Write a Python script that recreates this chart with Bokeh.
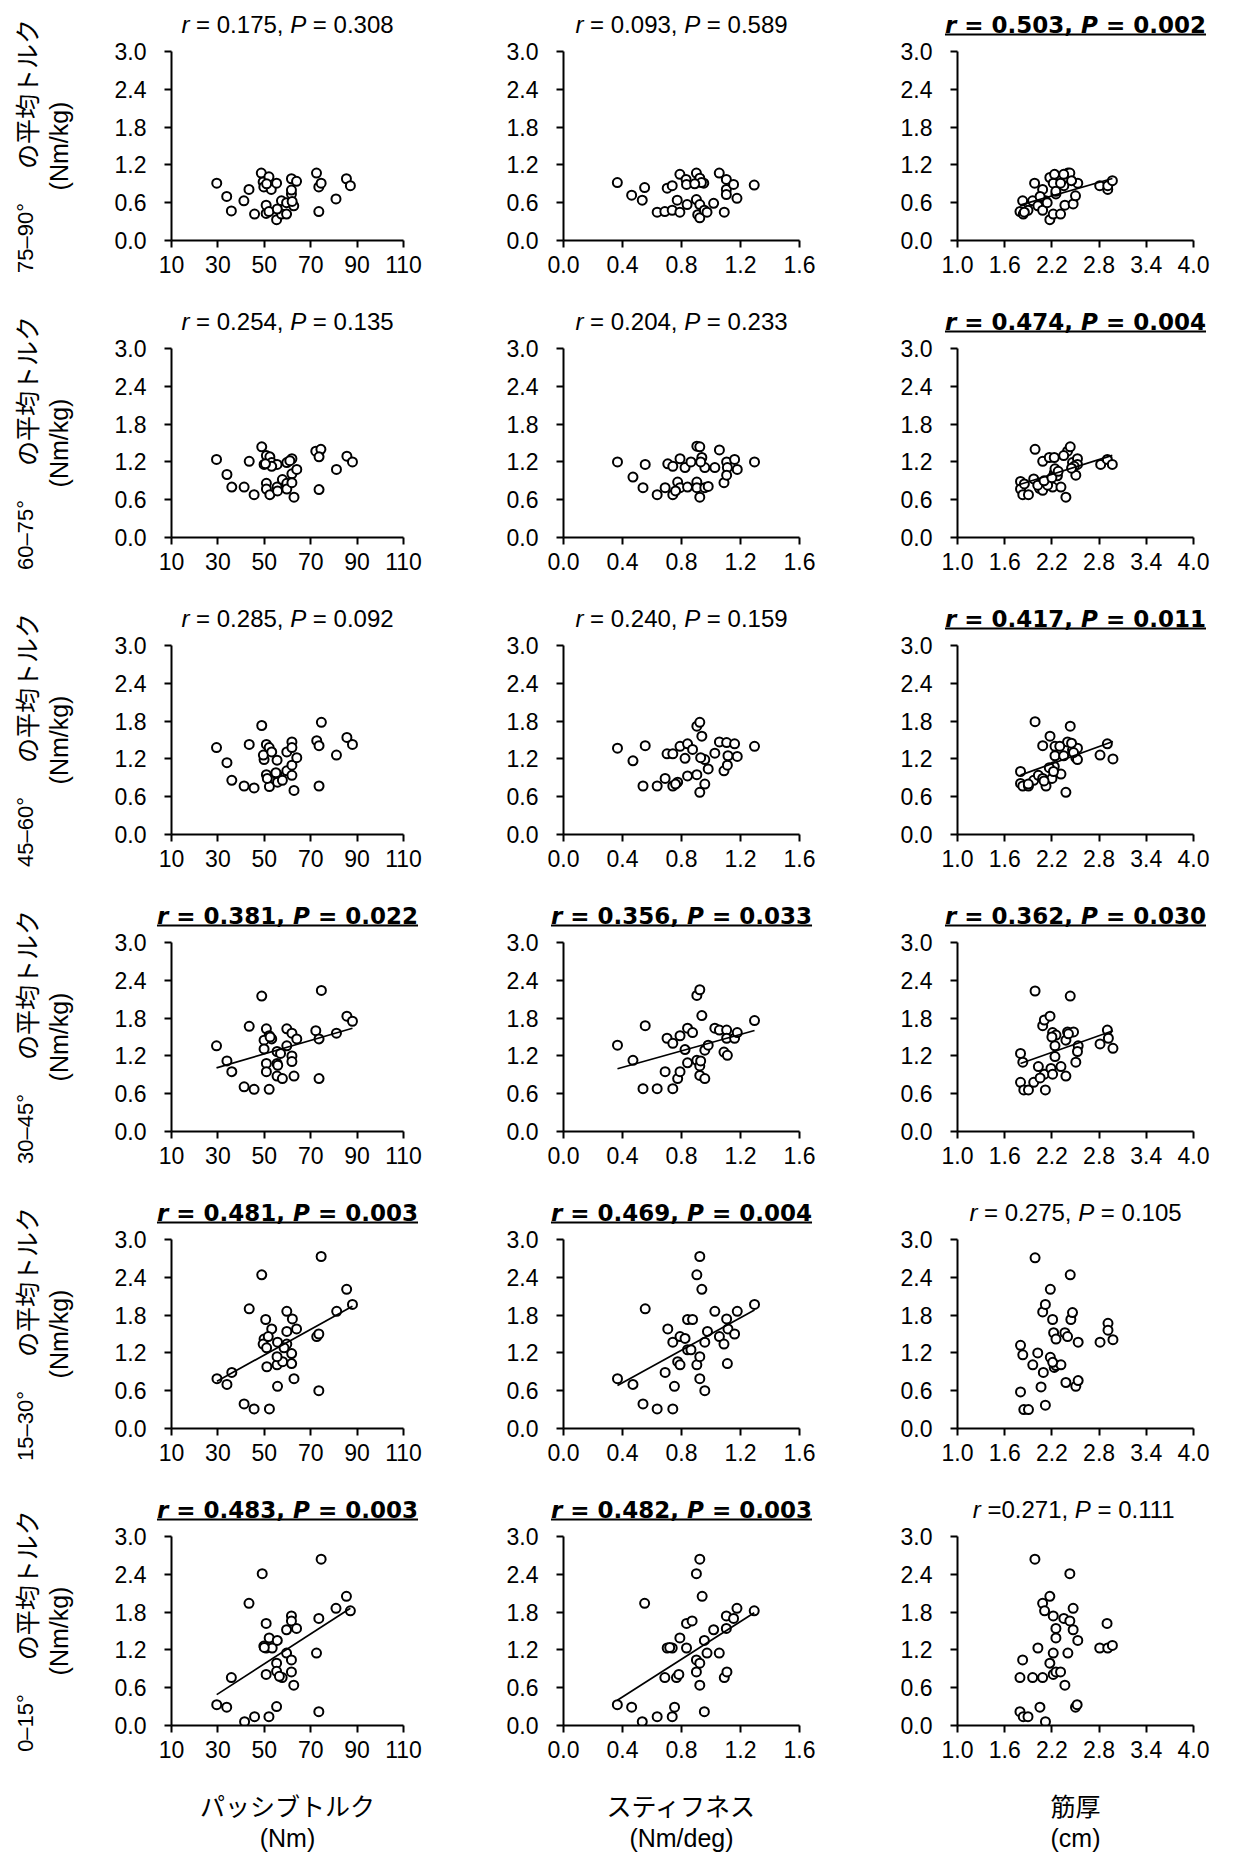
import numpy as np
from bokeh.plotting import figure
from bokeh.models import Range1d, FixedTicker, PrintfTickFormatter
from bokeh.layouts import row, column
from bokeh.core.properties import value
from bokeh.embed import file_html
from bokeh.resources import INLINE

# ---------------- data ----------------
# row 1 : 75-90 deg
r1c1_x = [29.5, 33.8, 35.8, 41.2, 43.4, 45.8, 48.7, 49.5, 49.8, 50.8, 50.8, 52.0, 52.0, 53.0, 55.3, 55.3, 57.4, 57.4,
          59.6, 59.6, 61.7, 61.7, 61.7, 62.7, 63.9, 72.5, 73.5, 74.5, 73.5, 80.9, 85.4, 87.1, 51.0, 55.6, 62.0]
r1c1_y = [0.91, 0.70, 0.47, 0.63, 0.81, 0.42, 1.07, 0.93, 0.85, 0.43, 0.56, 1.01, 0.46, 0.81, 0.91, 0.33, 0.63, 0.42,
          0.42, 0.60, 0.98, 0.74, 0.80, 0.55, 0.94, 1.07, 0.85, 0.91, 0.46, 0.66, 0.98, 0.87, 0.90, 0.50, 0.62]
r1c2_x = [0.365, 0.462, 0.534, 0.550, 0.635, 0.687, 0.703, 0.737, 0.737, 0.771, 0.789, 0.789, 0.831, 0.838, 0.834,
          0.901, 0.901, 0.924, 0.910, 0.924, 0.924, 0.951, 0.955, 0.973, 1.018, 1.056, 1.090, 1.104, 1.104, 1.104,
          1.153, 1.176, 1.293, 0.935, 0.890]
r1c2_y = [0.92, 0.72, 0.64, 0.84, 0.45, 0.46, 0.83, 0.87, 0.48, 0.64, 1.05, 0.45, 0.97, 0.57, 0.89,
          1.07, 0.65, 0.99, 0.41, 0.36, 0.57, 0.91, 0.48, 0.45, 0.59, 1.07, 0.45, 0.97, 0.81, 0.73,
          0.89, 0.67, 0.88, 0.92, 0.90]
r1c3_x = [1.794, 1.828, 1.836, 1.896, 1.955, 1.980, 2.022, 2.082, 2.082, 2.120, 2.174, 2.174, 2.217, 2.234, 2.251,
          2.217, 2.310, 2.352, 2.365, 2.403, 2.428, 2.470, 2.500, 2.529, 2.808, 2.910, 2.910, 2.969, 2.310, 2.350,
          2.140, 2.050, 2.250, 1.850, 2.450]
r1c3_y = [0.46, 0.63, 0.42, 0.48, 0.63, 0.91, 0.55, 0.81, 0.48, 0.63, 1.00, 0.33, 0.91, 1.05, 0.74,
          0.42, 0.42, 0.87, 0.56, 1.07, 1.07, 0.58, 0.71, 0.91, 0.87, 0.81, 0.87, 0.95, 0.91, 1.05,
          0.60, 0.70, 0.78, 0.45, 0.95]

# row 2 : 60-75 deg
r2c1_x = [29.4, 33.9, 36.0, 41.3, 43.5, 45.6, 48.9, 49.9, 50.9, 52.4, 50.9, 50.9, 52.4, 53.2, 55.5, 55.5, 55.7, 57.8,
          59.7, 59.7, 59.7, 61.9, 61.9, 61.9, 64.0, 62.8, 72.2, 74.4, 73.6, 73.6, 81.1, 85.6, 88.0, 53.2, 61.0, 50.5]
r2c1_y = [1.24, 1.00, 0.80, 0.80, 1.21, 0.68, 1.44, 1.16, 1.30, 1.28, 0.86, 0.77, 0.68, 1.19, 1.16, 0.80, 0.74, 0.92,
          1.19, 0.86, 0.77, 1.25, 1.01, 0.87, 1.08, 0.64, 1.37, 1.40, 1.28, 0.76, 1.08, 1.29, 1.20, 1.13, 1.22, 1.17]
r2c2_x = [0.366, 0.471, 0.539, 0.554, 0.635, 0.689, 0.707, 0.741, 0.741, 0.774, 0.790, 0.790, 0.824, 0.841, 0.864,
          0.904, 0.924, 0.938, 0.904, 0.904, 0.924, 0.958, 0.958, 0.981, 1.026, 1.057, 1.088, 1.106, 1.111, 1.106,
          1.160, 1.178, 1.295, 0.930, 0.760]
r2c2_y = [1.20, 0.96, 0.79, 1.16, 0.68, 0.79, 1.17, 1.13, 0.68, 0.88, 1.25, 0.79, 1.11, 0.80, 1.20,
          1.45, 1.44, 1.27, 0.88, 0.79, 0.64, 1.11, 0.79, 0.81, 1.11, 1.39, 0.87, 1.20, 1.11, 0.99,
          1.24, 1.08, 1.20, 1.20, 0.74]
r2c3_x = [1.801, 1.801, 1.830, 1.902, 1.969, 1.986, 2.041, 2.083, 2.083, 2.167, 2.209, 2.230, 2.230, 2.239, 2.315,
          2.378, 2.399, 2.433, 2.462, 2.504, 2.525, 2.525, 2.483, 2.820, 2.905, 2.968, 2.020, 2.146, 2.270, 1.850,
          2.100, 2.350, 2.200, 2.450, 2.280]
r2c3_y = [0.89, 0.77, 0.68, 0.68, 0.93, 1.40, 0.78, 1.21, 0.75, 1.27, 0.80, 1.27, 1.02, 1.09, 0.80,
          0.64, 1.37, 1.44, 1.19, 0.99, 1.25, 1.16, 1.13, 1.16, 1.24, 1.16, 0.83, 0.83, 0.98, 0.85,
          0.90, 1.30, 0.95, 1.10, 1.05]

# row 3 : 45-60 deg
r3c1_x = [29.4, 33.9, 36.0, 41.3, 43.5, 45.6, 48.9, 49.9, 50.9, 52.1, 49.6, 53.2, 50.9, 52.2, 55.5, 55.5, 55.7, 57.8,
          59.7, 59.7, 61.9, 61.9, 61.9, 61.9, 64.0, 62.8, 72.6, 73.6, 74.6, 73.6, 81.1, 85.6, 88.0, 51.3, 55.0]
r3c1_y = [1.38, 1.14, 0.86, 0.77, 1.43, 0.74, 1.73, 1.19, 1.43, 1.38, 1.26, 1.31, 0.95, 0.76, 1.18, 0.95, 0.83, 0.86,
          1.31, 1.01, 1.47, 1.38, 1.10, 0.94, 1.22, 0.70, 1.49, 1.41, 1.78, 0.77, 1.26, 1.54, 1.43, 0.89, 0.98]
r3c2_x = [0.366, 0.471, 0.539, 0.554, 0.635, 0.689, 0.702, 0.741, 0.741, 0.774, 0.790, 0.824, 0.841, 0.841, 0.875,
          0.904, 0.924, 0.938, 0.904, 0.924, 0.958, 0.958, 0.981, 1.026, 1.057, 1.088, 1.106, 1.111, 1.115, 1.160,
          1.178, 1.295, 0.930, 0.760]
r3c2_y = [1.37, 1.17, 0.77, 1.41, 0.77, 0.89, 1.28, 1.28, 0.77, 0.83, 1.40, 1.21, 0.93, 1.44, 1.35,
          1.72, 1.78, 1.56, 0.95, 0.67, 1.19, 0.80, 1.04, 1.29, 1.47, 1.01, 1.46, 1.10, 1.25, 1.44,
          1.24, 1.40, 1.22, 0.80]
r3c3_x = [1.801, 1.801, 1.830, 1.902, 1.969, 1.986, 2.028, 2.083, 2.083, 2.176, 2.201, 2.125, 2.239, 2.239, 2.230,
          2.315, 2.378, 2.399, 2.433, 2.462, 2.504, 2.525, 2.525, 2.475, 2.812, 2.905, 2.976, 2.167, 2.300, 1.900,
          2.100, 2.220, 2.350, 2.450]
r3c3_y = [1.00, 0.81, 0.77, 0.77, 0.86, 1.79, 0.94, 1.41, 0.89, 1.56, 0.89, 0.77, 1.40, 1.25, 1.08,
          0.96, 0.67, 1.47, 1.72, 1.34, 1.22, 1.37, 1.19, 1.30, 1.26, 1.44, 1.20, 1.06, 1.40, 0.80,
          0.85, 1.00, 1.25, 1.45]

# row 4 : 30-45 deg
r4c1_x = [29.4, 33.9, 36.0, 41.3, 43.5, 45.6, 48.9, 50.9, 52.1, 53.2, 49.9, 49.9, 50.9, 50.9, 52.1, 55.5, 55.5, 55.5,
          57.8, 59.7, 59.7, 61.9, 61.9, 61.9, 64.0, 62.8, 72.2, 73.6, 74.6, 73.6, 81.1, 85.6, 88.0, 57.0, 52.5, 55.8]
r4c1_y = [1.36, 1.12, 0.95, 0.71, 1.67, 0.67, 2.15, 1.63, 1.52, 1.47, 1.45, 1.31, 1.08, 0.95, 0.67, 1.27, 1.08, 0.88,
          0.84, 1.63, 1.36, 1.56, 1.20, 1.11, 1.47, 0.88, 1.60, 1.47, 2.24, 0.84, 1.56, 1.83, 1.75, 1.24, 1.50, 1.05]
r4c2_x = [0.366, 0.471, 0.539, 0.554, 0.635, 0.689, 0.702, 0.741, 0.741, 0.774, 0.790, 0.790, 0.824, 0.841, 0.841,
          0.875, 0.904, 0.924, 0.938, 0.904, 0.924, 0.924, 0.958, 0.958, 0.981, 1.026, 1.057, 1.088, 1.106, 1.111,
          1.106, 1.160, 1.178, 1.295, 0.930]
r4c2_y = [1.37, 1.13, 0.68, 1.68, 0.68, 0.95, 1.48, 1.40, 0.68, 0.84, 0.95, 1.52, 1.30, 1.09, 1.64,
          1.57, 2.16, 2.25, 1.84, 1.13, 1.04, 0.89, 0.84, 1.29, 1.37, 1.64, 1.61, 1.26, 1.61, 1.21,
          1.48, 1.48, 1.57, 1.76, 1.12]
r4c3_x = [1.801, 1.830, 1.801, 1.843, 1.902, 1.969, 1.986, 2.028, 2.083, 2.104, 2.104, 2.117, 2.176, 2.188, 2.209,
          2.209, 2.239, 2.239, 2.252, 2.315, 2.378, 2.378, 2.399, 2.433, 2.475, 2.504, 2.534, 2.525, 2.812, 2.905,
          2.918, 2.976, 2.200, 2.410, 2.050]
r4c3_y = [1.24, 1.10, 0.78, 0.66, 0.66, 0.78, 2.23, 1.03, 1.68, 1.77, 0.91, 0.66, 1.83, 1.00, 1.57,
          0.91, 1.36, 1.19, 1.53, 1.03, 0.88, 1.45, 1.58, 2.15, 1.58, 1.10, 1.36, 1.27, 1.39, 1.61,
          1.48, 1.32, 1.50, 1.55, 0.85]

# row 5 : 15-30 deg
r5c1_x = [29.6, 33.9, 36.0, 41.3, 45.6, 43.5, 48.9, 52.2, 55.7, 50.6, 53.2, 49.9, 49.5, 51.7, 51.0, 55.7, 51.1, 55.5,
          57.9, 55.5, 59.7, 59.7, 59.7, 62.1, 63.9, 61.8, 61.8, 62.8, 72.6, 73.5, 73.5, 74.5, 81.2, 85.5, 88.0, 58.5]
r5c1_y = [0.79, 0.70, 0.89, 0.39, 0.31, 1.90, 2.44, 0.31, 0.67, 1.73, 1.58, 1.42, 1.34, 1.46, 1.28, 1.37, 0.98, 1.01,
          1.06, 1.14, 1.54, 1.34, 1.86, 1.74, 1.58, 1.19, 1.03, 0.79, 1.46, 1.50, 0.60, 2.73, 1.86, 2.21, 1.97, 1.28]
r5c2_x = [0.366, 0.471, 0.539, 0.554, 0.635, 0.689, 0.707, 0.741, 0.741, 0.774, 0.790, 0.790, 0.752, 0.824, 0.841,
          0.875, 0.841, 0.904, 0.924, 0.938, 0.904, 0.924, 0.924, 0.958, 0.958, 0.976, 1.026, 1.057, 1.088, 1.106,
          1.111, 1.115, 1.160, 1.178, 1.295, 0.864]
r5c2_y = [0.79, 0.70, 0.39, 1.90, 0.31, 0.89, 1.58, 1.37, 0.31, 1.06, 1.46, 1.01, 0.67, 1.43, 1.73,
          1.73, 1.25, 2.44, 2.73, 2.21, 1.01, 1.14, 0.79, 0.60, 1.37, 1.54, 1.86, 1.46, 1.34, 1.74,
          1.03, 1.58, 1.50, 1.86, 1.97, 1.25]
r5c3_x = [1.801, 1.830, 1.801, 1.843, 1.902, 1.957, 1.986, 2.020, 2.062, 2.083, 2.117, 2.091, 2.117, 2.180, 2.180,
          2.209, 2.222, 2.230, 2.252, 2.252, 2.315, 2.365, 2.399, 2.378, 2.433, 2.441, 2.462, 2.504, 2.534, 2.534,
          2.812, 2.913, 2.913, 2.976, 2.210]
r5c3_y = [1.32, 1.17, 0.58, 0.30, 0.30, 1.01, 2.71, 1.20, 0.66, 1.85, 1.97, 0.89, 0.37, 2.21, 1.13,
          1.73, 1.52, 0.97, 1.00, 1.42, 1.01, 1.52, 1.46, 0.73, 2.44, 1.73, 1.84, 0.67, 0.76, 1.37,
          1.37, 1.67, 1.56, 1.41, 1.05]

# row 6 : 0-15 deg
r6c1_x = [29.5, 33.8, 35.8, 41.5, 45.8, 43.4, 49.1, 52.0, 55.3, 50.8, 52.1, 49.8, 50.8, 53.4, 55.6, 50.8, 55.3, 55.3,
          57.7, 59.6, 59.6, 61.7, 61.7, 63.9, 61.7, 61.7, 62.7, 72.5, 73.5, 73.5, 74.5, 80.9, 85.4, 87.1, 56.5, 50.0]
r6c1_y = [0.33, 0.29, 0.76, 0.06, 0.14, 1.94, 2.41, 0.14, 0.30, 1.62, 1.39, 1.26, 1.23, 1.23, 1.35, 0.81, 0.99, 0.86,
          0.76, 1.52, 1.15, 1.74, 1.66, 1.54, 1.04, 0.85, 0.64, 1.15, 1.70, 0.22, 2.64, 1.86, 2.05, 1.82, 0.78, 1.24]
r6c2_x = [0.365, 0.462, 0.534, 0.550, 0.635, 0.687, 0.703, 0.737, 0.737, 0.753, 0.766, 0.782, 0.789, 0.834, 0.834,
          0.872, 0.901, 0.924, 0.940, 0.901, 0.924, 0.901, 0.924, 0.955, 0.955, 0.973, 1.018, 1.056, 1.090, 1.108,
          1.104, 1.104, 1.153, 1.176, 1.293, 0.720]
r6c2_y = [0.33, 0.29, 0.06, 1.94, 0.14, 0.76, 1.23, 1.23, 0.14, 0.29, 0.76, 0.81, 1.39, 1.62, 1.23,
          1.66, 2.41, 2.64, 2.05, 1.04, 0.99, 0.85, 0.64, 0.22, 1.35, 1.15, 1.52, 1.15, 0.76, 0.85,
          1.54, 1.74, 1.70, 1.86, 1.82, 1.24]
r6c3_x = [1.984, 2.428, 2.174, 2.082, 2.107, 2.470, 2.217, 2.352, 2.428, 2.901, 2.251, 2.470, 2.251, 2.529, 2.022,
          2.808, 2.910, 2.969, 2.217, 2.403, 1.828, 2.174, 1.794, 1.955, 2.082, 2.217, 2.251, 2.310, 2.365, 2.048,
          2.500, 2.521, 1.794, 1.836, 1.896, 2.118]
r6c3_y = [2.64, 2.41, 2.05, 1.94, 1.82, 1.86, 1.74, 1.70, 1.66, 1.62, 1.54, 1.52, 1.39, 1.35, 1.23,
          1.23, 1.23, 1.27, 1.15, 1.15, 1.04, 0.99, 0.76, 0.76, 0.76, 0.81, 0.85, 0.85, 0.64, 0.29,
          0.29, 0.33, 0.22, 0.14, 0.14, 0.06]

panel_x = [[r1c1_x, r1c2_x, r1c3_x], [r2c1_x, r2c2_x, r2c3_x], [r3c1_x, r3c2_x, r3c3_x],
           [r4c1_x, r4c2_x, r4c3_x], [r5c1_x, r5c2_x, r5c3_x], [r6c1_x, r6c2_x, r6c3_x]]
panel_y = [[r1c1_y, r1c2_y, r1c3_y], [r2c1_y, r2c2_y, r2c3_y], [r3c1_y, r3c2_y, r3c3_y],
           [r4c1_y, r4c2_y, r4c3_y], [r5c1_y, r5c2_y, r5c3_y], [r6c1_y, r6c2_y, r6c3_y]]

titles = [
    ["r = 0.175, P = 0.308", "r = 0.093, P = 0.589", "r = 0.503, P = 0.002"],
    ["r = 0.254, P = 0.135", "r = 0.204, P = 0.233", "r = 0.474, P = 0.004"],
    ["r = 0.285, P = 0.092", "r = 0.240, P = 0.159", "r = 0.417, P = 0.011"],
    ["r = 0.381, P = 0.022", "r = 0.356, P = 0.033", "r = 0.362, P = 0.030"],
    ["r = 0.481, P = 0.003", "r = 0.469, P = 0.004", "r = 0.275, P = 0.105"],
    ["r = 0.483, P = 0.003", "r = 0.482, P = 0.003", "r =0.271, P = 0.111"],
]
significant = [[False, False, True], [False, False, True], [False, False, True],
               [True, True, True], [True, True, False], [True, True, False]]

row_angles = ["75–90°", "60–75°", "45–60°", "30–45°", "15–30°", "0–15°"]
row_measure = "の平均トルク"
row_unit = "(Nm/kg)"
x_names = ["パッシブトルク", "スティフネス", "筋厚"]
x_units = ["(Nm)", "(Nm/deg)", "(cm)"]
x_limits = [(10, 110), (0.0, 1.6), (1.0, 4.0)]
x_ticks = [[10, 30, 50, 70, 90, 110], [0.0, 0.4, 0.8, 1.2, 1.6], [1.0, 1.6, 2.2, 2.8, 3.4, 4.0]]
x_formats = ["%d", "%.1f", "%.1f"]
y_ticks = [0.0, 0.6, 1.2, 1.8, 2.4, 3.0]

# ---------------- layout / style ----------------
LABEL_W = 80
PLEFT = [91, 93, 97]
FW = [232, 236, 236]
PRIGHT = [67, 61, 41]
PW = [PLEFT[c] + FW[c] + PRIGHT[c] for c in range(3)]
STRIP_W = sum(PW)
POFF = [0, PW[0], PW[0] + PW[1]]          # panel offsets inside the right part
BLOCK_H = 297
TITLE_H = 39
P_TOP = 12
FH = 189
P_H = BLOCK_H - TITLE_H
P_BOTTOM = P_H - P_TOP - FH
BOTTOM_H = 1856 - 6 * BLOCK_H
NROWS = 6
FONT = "Liberation Sans"
JFONT = "Noto Sans CJK JP"
BFONT = "DejaVu Sans"

W_REG = {' ': 278, '=': 584, '.': 278, ',': 278, 'r': 333, 'P': 667, '–': 556, '°': 400}
W_BOLD = {' ': 348, '=': 838, '.': 380, ',': 380, 'r': 493, 'P': 733}


def text_w(s, table, size, default):
    return sum(table.get(ch, default) for ch in s) / 1000.0 * size


def blank_fig(w, h):
    p = figure(width=w, height=h, x_range=Range1d(0, w), y_range=Range1d(0, h),
               output_backend="svg", toolbar_location=None, min_border=0,
               x_axis_type=None, y_axis_type=None)
    p.outline_line_color = None
    p.grid.visible = False
    p.background_fill_color = "white"
    p.border_fill_color = "white"
    return p


def strip_fig(r):
    p = blank_fig(STRIP_W, TITLE_H)
    mid = TITLE_H - 24          # vertical middle of the title text
    for c in range(3):
        text = titles[r][c]
        bold = significant[r][c]
        i = text.index("P")
        parts = [(text[0], True), (text[1:i], False), ("P", True), (text[i + 1:], False)]
        if bold:
            font, size, table, dflt = BFONT, 23, W_BOLD, 696
        else:
            font, size, table, dflt = FONT, 24, W_REG, 556
        widths = [text_w(s, table, size, dflt) for s, _ in parts]
        total = sum(widths)
        cx = POFF[c] + PLEFT[c] + FW[c] / 2.0
        x = cx - total / 2.0
        sp = text_w(" ", table, size, dflt)
        for (s, it), w in zip(parts, widths):
            lead = len(s) - len(s.lstrip(" "))
            if bold:
                style = "bold italic" if it else "bold"
            else:
                style = "italic" if it else "normal"
            p.text(x=[x + lead * sp], y=[mid], text=[s.strip(" ")], text_font=value(font),
                   text_font_size=value(f"{size}px"), text_font_style=value(style),
                   text_align=value("left"), text_baseline=value("middle"), text_color="black")
            x += w
        if bold:
            p.quad(left=[cx - total / 2.0], right=[cx + total / 2.0],
                   top=[TITLE_H - 33], bottom=[TITLE_H - 35],
                   fill_color="black", line_color=None)
    return p


def panel_fig(r, c):
    p = figure(width=PW[c], height=P_H, x_range=Range1d(*x_limits[c]), y_range=Range1d(0, 3.0),
               output_backend="svg", toolbar_location=None,
               min_border_left=PLEFT[c], min_border_right=PRIGHT[c],
               min_border_top=P_TOP, min_border_bottom=P_BOTTOM)
    p.outline_line_color = None
    p.grid.visible = False
    p.background_fill_color = "white"
    p.border_fill_color = "white"
    for ax in (p.xaxis[0], p.yaxis[0]):
        ax.axis_line_color = "black"
        ax.axis_line_width = 2
        ax.major_tick_line_color = "black"
        ax.major_tick_line_width = 2
        ax.major_tick_out = 7
        ax.major_tick_in = 0
        ax.minor_tick_line_color = None
        ax.major_label_text_font = FONT
        ax.major_label_text_font_size = "23px"
        ax.major_label_text_color = "black"
    p.xaxis[0].ticker = FixedTicker(ticks=x_ticks[c])
    p.xaxis[0].formatter = PrintfTickFormatter(format=x_formats[c])
    p.xaxis[0].major_label_standoff = 8
    p.yaxis[0].ticker = FixedTicker(ticks=y_ticks)
    p.yaxis[0].formatter = PrintfTickFormatter(format="%.1f")
    p.yaxis[0].major_label_standoff = 18

    xs = panel_x[r][c]
    ys = panel_y[r][c]
    p.scatter(xs, ys, marker="circle", size=9, fill_color="white", line_color="black", line_width=2)
    if significant[r][c]:
        k, b = np.polyfit(np.array(xs), np.array(ys), 1)
        lx = [min(xs), max(xs)]
        p.line(lx, [k * lx[0] + b, k * lx[1] + b], line_color="black", line_width=1.7)
    return p


def label_fig(r):
    p = blank_fig(LABEL_W, BLOCK_H)
    yc = BLOCK_H - (TITLE_H + P_TOP + FH / 2.0)
    wn = text_w(row_angles[r], W_REG, 22, 556)
    wj = 25 * len(row_measure)
    gap = 34
    y0 = yc - (wn + gap + wj) / 2.0
    p.text(x=[25], y=[y0], text=[row_angles[r]], angle=np.pi / 2, text_align=value("left"),
           text_baseline=value("middle"), text_font=value(FONT), text_font_size=value("22px"),
           text_color="black")
    p.text(x=[25], y=[y0 + wn + gap], text=[row_measure], angle=np.pi / 2, text_align=value("left"),
           text_baseline=value("middle"), text_font=value(JFONT), text_font_size=value("25px"),
           text_color="black")
    p.text(x=[58], y=[yc], text=[row_unit], angle=np.pi / 2, text_align=value("center"),
           text_baseline=value("middle"), text_font=value(FONT), text_font_size=value("25px"),
           text_color="black")
    return p


def bottom_fig():
    w = LABEL_W + STRIP_W
    p = blank_fig(w, BOTTOM_H)
    cxs = [LABEL_W + POFF[c] + PLEFT[c] + FW[c] / 2.0 for c in range(3)]
    p.text(x=cxs, y=[BOTTOM_H - 22] * 3, text=x_names, text_align=value("center"),
           text_baseline=value("middle"), text_font=value(JFONT), text_font_size=value("25px"),
           text_color="black")
    p.text(x=cxs, y=[BOTTOM_H - 55] * 3, text=x_units, text_align=value("center"),
           text_baseline=value("middle"), text_font=value(FONT), text_font_size=value("25px"),
           text_color="black")
    return p


blocks = []
for r in range(NROWS):
    right = column(strip_fig(r), row(*[panel_fig(r, c) for c in range(3)], spacing=0), spacing=0)
    blocks.append(row(label_fig(r), right, spacing=0))
blocks.append(bottom_fig())
layout = column(*blocks, spacing=0)

open("out.html", "w").write(file_html(layout, INLINE))
